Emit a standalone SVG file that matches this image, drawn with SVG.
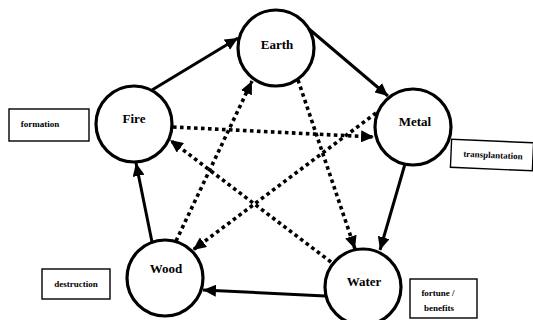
<svg xmlns="http://www.w3.org/2000/svg" width="533" height="320" viewBox="0 0 533 320">
<defs>
<style>
.node circle{fill:#fff;stroke:#000;stroke-width:3.2}
.node text{font-family:"Liberation Serif",serif;font-size:13px;font-weight:bold;text-anchor:middle}
.solid{stroke:#000;stroke-width:3;fill:none}
.dot{stroke:#000;stroke-width:3.6;fill:none;stroke-dasharray:3.6 3.4}
.lbl rect{fill:#fff;stroke:#000;stroke-width:1.4}
.lbl text{font-family:"Liberation Serif",serif;font-size:9px;font-weight:bold;text-anchor:middle}
</style>
<marker id="ah" markerUnits="userSpaceOnUse" markerWidth="14" markerHeight="12" refX="13" refY="6" orient="auto">
<path d="M0,0 L13,6 L0,12 Z" fill="#000"/>
</marker>
</defs>
<rect width="533" height="320" fill="#fff"/>
<g id="connectors">
<line class="solid" x1="152" y1="90" x2="238" y2="38" marker-end="url(#ah)"/>
<line class="solid" x1="309" y1="29" x2="388" y2="96" marker-end="url(#ah)"/>
<line class="solid" x1="405" y1="164" x2="380" y2="250" marker-end="url(#ah)"/>
<line class="solid" x1="325" y1="296" x2="203" y2="290" marker-end="url(#ah)"/>
<line class="solid" x1="152" y1="242" x2="136" y2="163" marker-end="url(#ah)"/>
<line class="dot" x1="173" y1="127" x2="374" y2="137" marker-end="url(#ah)"/>
<line class="dot" x1="376" y1="113" x2="193" y2="250" marker-end="url(#ah)"/>
<line class="dot" x1="176" y1="241" x2="252" y2="81" marker-end="url(#ah)"/>
<line class="dot" x1="298" y1="80" x2="355" y2="249" marker-end="url(#ah)"/>
<line class="dot" x1="331" y1="262" x2="170" y2="140" marker-end="url(#ah)"/>
</g>
<g id="earth" class="node"><circle cx="276" cy="48" r="38"/><text x="277" y="49">Earth</text></g>
<g id="fire" class="node"><circle cx="134" cy="124" r="38"/><text x="134" y="123">Fire</text></g>
<g id="metal" class="node"><circle cx="413" cy="127" r="38"/><text x="415" y="126">Metal</text></g>
<g id="wood" class="node"><circle cx="165" cy="278" r="38"/><text x="166" y="273">Wood</text></g>
<g id="water" class="node"><circle cx="363" cy="287" r="38"/><text x="364" y="286">Water</text></g>
<g id="label-formation" class="lbl"><rect x="9" y="109" width="80" height="32"/><text x="40" y="127">formation</text></g>
<g id="label-transplantation" class="lbl" transform="rotate(2.5 491 155)"><rect x="451" y="141" width="82" height="28"/><text x="493" y="158">transplantation</text></g>
<g id="label-destruction" class="lbl"><rect x="42" y="269" width="68" height="30"/><text x="76" y="287">destruction</text></g>
<g id="label-fortune" class="lbl"><rect x="410" y="279" width="67" height="39"/><text x="438" y="296">fortune /</text><text x="439" y="311">benefits</text></g>
</svg>
